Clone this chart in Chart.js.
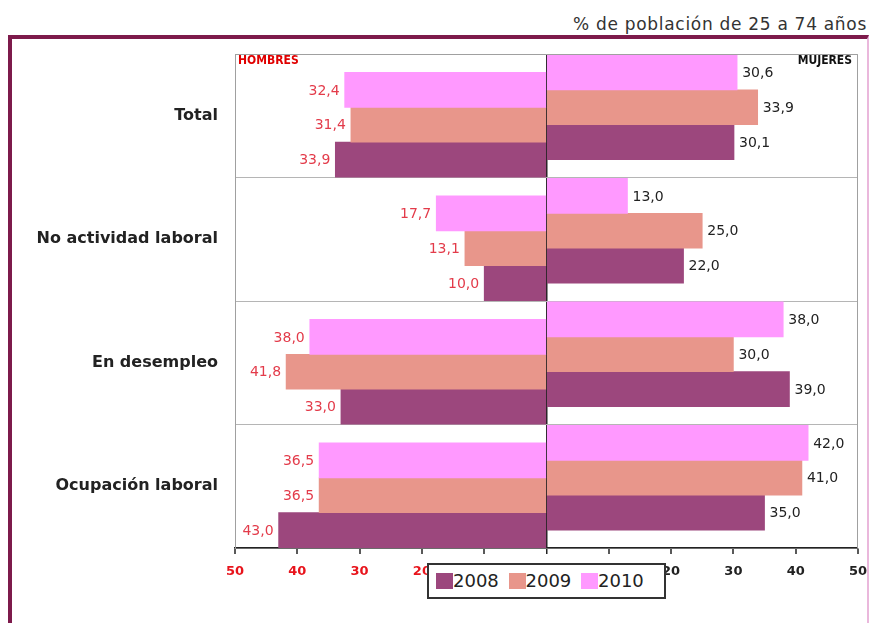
<!DOCTYPE html>
<html>
<head>
<meta charset="utf-8">
<script src="https://cdn.jsdelivr.net/npm/chart.js@4.4.0/dist/chart.umd.min.js"></script>
<style>
  body { margin: 0; background: #fff; }
  #wrap { position: relative; width: 869px; height: 623px; overflow: hidden; font-family: "DejaVu Sans", sans-serif; }
  #frame { position: absolute; left: 8px; top: 35px; width: 855px; height: 620px; border-top: 4px solid #7d1a4b; border-left: 4px solid #7d1a4b; border-right: 2px solid #eab8dc; }
  #title { position: absolute; right: 2px; top: 14px; font-size: 17px; letter-spacing: 0.7px; color: #333; white-space: nowrap; }
  #chart { position: absolute; left: 0; top: 0; }
  #legend { position: absolute; left: 427px; top: 563px; width: 228px; height: 32px; border: 2px solid #333; background: #fff; padding-left: 7px; }
  #legend .item { display: inline-block; width: 72.5px; height: 32px; line-height: 32px; font-size: 18px; color: #222; vertical-align: top; }
  #legend .sw { display: inline-block; width: 17px; height: 16px; vertical-align: -2px; }
</style>
</head>
<body>
<div id="wrap">
  <div id="frame"></div>
  <div id="title">% de población de 25 a 74 años</div>
  <canvas id="chart" width="869" height="623"></canvas>
  <div id="legend"></div>
</div>
<script>
const categorias = ["Total", "No actividad laboral", "En desempleo", "Ocupación laboral"];
const anios = ["2010", "2009", "2008"];
const colores = ["#ff99ff", "#e8968b", "#9c477d"];

// hombres (se dibujan hacia la izquierda)
const hombres2010 = [32.4, 17.7, 38.0, 36.5];
const hombres2009 = [31.4, 13.1, 41.8, 36.5];
const hombres2008 = [33.9, 10.0, 33.0, 43.0];
// mujeres
const mujeres2010 = [30.6, 13.0, 38.0, 42.0];
const mujeres2009 = [33.9, 25.0, 30.0, 41.0];
const mujeres2008 = [30.1, 22.0, 39.0, 35.0];

const ticksX = [-50, -40, -30, -20, -10, 0, 10, 20, 30, 40, 50];

const rojo = "#e8141c";

// cada barra va en su propio eje oculto: asi hombres quedan abajo y mujeres arriba en cada grupo
const grosor = 35 / 124; // alto de barra en unidades de categoria
const desplazamiento = { h: 0.073, m: -0.069 };

function serie(anio, valores, color, lado, k) {
  return {
    label: anio,
    lado: lado,
    backgroundColor: color,
    borderWidth: 0,
    barThickness: 35,
    grouped: false,
    yAxisID: "y" + lado + k,
    data: valores.map((v, i) => ({ x: lado == "h" ? -v : v, y: i })),
  };
}

function ejeOculto(lado, k) {
  const min = -(0.5 + desplazamiento[lado] + (k - 1) * grosor);
  return {
    type: "linear",
    display: false,
    offset: false,
    reverse: true,
    min: min,
    max: min + categorias.length,
  };
}

const hombres = [hombres2010, hombres2009, hombres2008];
const mujeres = [mujeres2010, mujeres2009, mujeres2008];
const datasets = [];
const escalas = {};
anios.forEach((a, k) => {
  datasets.push(serie(a, hombres[k], colores[k], "h", k));
  escalas["yh" + k] = ejeOculto("h", k);
});
anios.forEach((a, k) => {
  datasets.push(serie(a, mujeres[k], colores[k], "m", k));
  escalas["ym" + k] = ejeOculto("m", k);
});

const etiquetas = {
  id: "etiquetas",
  afterDatasetsDraw(chart) {
    const ctx = chart.ctx;
    const area = chart.chartArea;
    ctx.save();
    ctx.font = '14px "DejaVu Sans"';
    ctx.textBaseline = "middle";
    chart.data.datasets.forEach((ds, di) => {
      chart.getDatasetMeta(di).data.forEach((bar, i) => {
        const txt = Math.abs(ds.data[i].x).toFixed(1).replace(".", ",");
        if (ds.lado == "h") {
          ctx.fillStyle = "#e33b4a";
          ctx.textAlign = "right";
          ctx.fillText(txt, bar.x - 5, bar.y + 1);
        } else {
          ctx.fillStyle = "#222";
          ctx.textAlign = "left";
          ctx.fillText(txt, bar.x + 5, bar.y + 1);
        }
      });
    });
    // borde del area
    ctx.strokeStyle = "#a0a0a0";
    ctx.lineWidth = 1;
    ctx.beginPath();
    ctx.moveTo(area.left, area.top + 0.5);
    ctx.lineTo(area.right - 0.5, area.top + 0.5);
    ctx.lineTo(area.right - 0.5, area.bottom);
    ctx.stroke();
    ctx.font = 'bold 12px "DejaVu Sans Condensed", "DejaVu Sans"';
    ctx.textBaseline = "top";
    ctx.fillStyle = "#e00000";
    ctx.textAlign = "left";
    ctx.fillText("HOMBRES", area.left + 3, area.top + 1);
    ctx.fillStyle = "#111";
    ctx.textAlign = "right";
    ctx.fillText("MUJERES", area.right - 6, area.top + 1);
    ctx.restore();
  },
};

const config = {
  type: "bar",
  data: { labels: categorias, datasets: datasets },
  options: {
    indexAxis: "y",
    responsive: false,
    animation: false,
    layout: { padding: { top: 54, right: 11, left: 10, bottom: 0 } },
    plugins: { legend: { display: false }, tooltip: { enabled: false } },
    scales: Object.assign({
      x: {
        type: "linear",
        min: -50,
        max: 50,
        afterBuildTicks: (s) => {
          s.ticks = ticksX.map((v) => ({ value: v }));
        },
        afterFit: (s) => {
          s.height = 75;
          s.paddingLeft = 0;
          s.paddingRight = 0;
        },
        ticks: {
          callback: (v) => Math.abs(v),
          color: (c) => (c.tick.value < 0 ? rojo : "#222"),
          font: { family: "DejaVu Sans", weight: "bold", size: 13 },
          padding: 10,
        },
        grid: {
          color: (c) => (c.tick.value == 0 ? "#222" : "rgba(0,0,0,0)"),
          lineWidth: (c) => (c.tick.value == 0 ? 1.5 : 0),
          tickColor: "#222",
          tickLength: 6,
          tickWidth: 1.5,
        },
        border: { color: "#222", width: 1.5 },
      },
      y: {
        type: "category",
        labels: categorias,
        offset: true,
        position: "left",
        afterFit: (s) => {
          s.width = 225;
        },
        grid: { offset: true, color: "#b5b5b5", drawTicks: false },
        border: { color: "#a0a0a0" },
        ticks: {
          padding: 17,
          color: "#222",
          font: { family: "DejaVu Sans", weight: "bold", size: 16 },
        },
      },
    }, escalas),
  },
  plugins: [etiquetas],
};

const myChart = new Chart(document.querySelector("#chart"), config);

// leyenda en orden 2008, 2009, 2010
const legend = document.querySelector("#legend");
anios.slice().reverse().forEach((a) => {
  const k = anios.indexOf(a);
  legend.innerHTML += '<span class="item"><span class="sw" style="background:' + colores[k] + '"></span>' + a + "</span>";
});
</script>
</body>
</html>
